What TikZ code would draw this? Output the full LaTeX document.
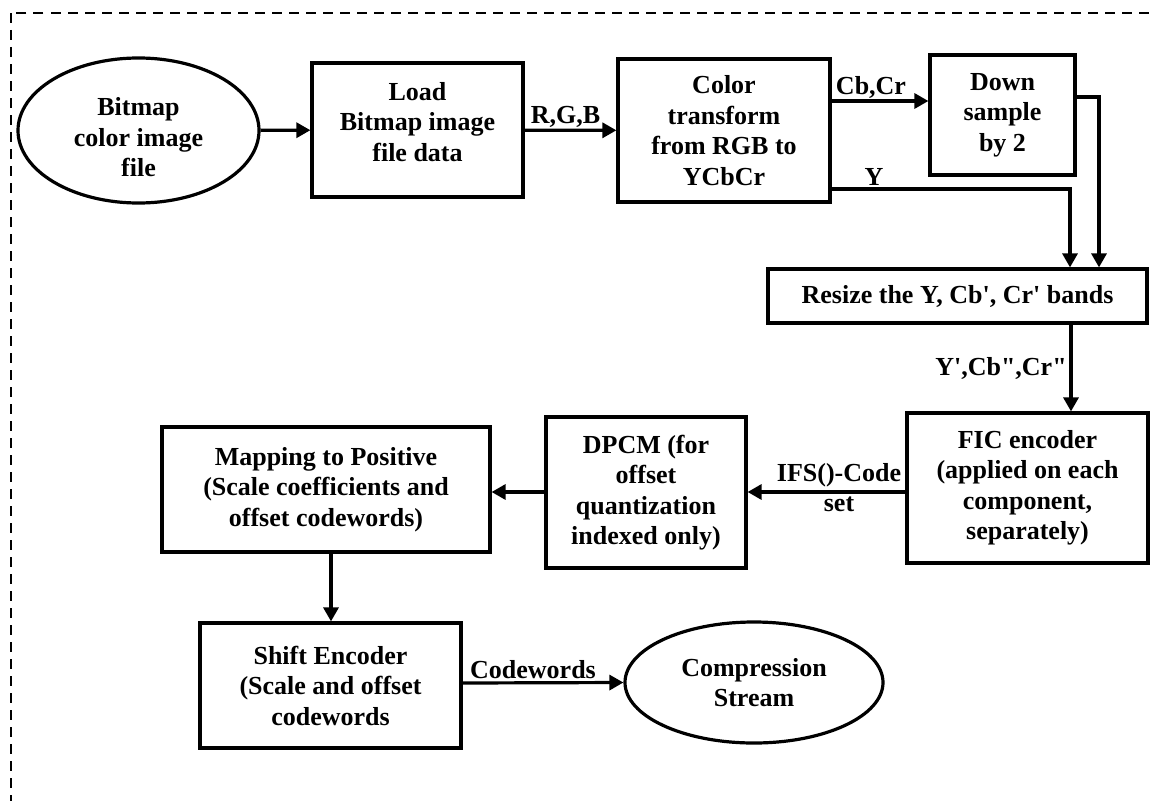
\documentclass[tikz,border=0pt]{standalone}
\usepackage{fontspec}
\setmainfont{Liberation Serif}
\usetikzlibrary{arrows.meta,shapes.geometric}
\begin{document}
\begin{tikzpicture}[x=1pt,y=-1pt,
  lw/.style={line width=3.2pt},
  txt/.style={font=\fontsize{26}{30.5}\selectfont\bfseries, align=center, inner sep=0pt},
  box/.style={draw, lw, rectangle, txt},
  oval/.style={draw, lw, ellipse, txt},
  arr/.style={lw, -{Triangle[length=14pt,width=15pt]}},
  lab/.style={font=\fontsize{26}{30.5}\selectfont\bfseries, inner sep=0pt, anchor=base},
  frame/.style={dash pattern=on 10pt off 7pt, line width=2pt}
]
\useasboundingbox (0,0) rectangle (1155,800);
\clip (0,0) rectangle (1155,800);
\fill[white] (0,0) rectangle (1155,800);
\draw[frame] (10.5,13) rectangle (1175,820);

% shapes
\node[oval, minimum width=241pt, minimum height=145pt] (bmp) at (138.5,130.5) {};
\node[txt] (bmpt) at (138.5,137.5) {Bitmap\\color image\\file};
\node[box, minimum width=211pt, minimum height=134pt] (load) at (417.5,130) {};
\node[txt] (loadt) at (417.5,121.7) {Load\\Bitmap image\\file data};
\node[box, minimum width=212pt, minimum height=143pt] (ct) at (724,130.5) {Color\\transform\\from RGB to\\YCbCr};
\node[box, minimum width=145pt, minimum height=120pt] (ds) at (1002.5,115) {Down\\sample\\by 2};
\node[box, minimum width=379pt, minimum height=54pt] (rs) at (957.5,296) {Resize the Y, Cb\textquotesingle, Cr\textquotesingle{} bands};
\node[box, minimum width=241pt, minimum height=150pt] (fic) at (1027.5,488) {FIC encoder\\(applied on each\\component,\\separately)};
\node[box, minimum width=200pt, minimum height=151pt] (dpcm) at (646,492.5) {DPCM (for\\offset\\quantization\\indexed only)};
\node[box, minimum width=328pt, minimum height=125pt] (map) at (326,489.5) {Mapping to Positive\\(Scale coefficients and\\offset codewords)};
\node[box, minimum width=261pt, minimum height=125pt] (shift) at (330.5,685.5) {Shift Encoder\\(Scale and offset\\codewords};
\node[oval, minimum width=258pt, minimum height=121pt] (cs) at (754,682.5) {Compression\\Stream};

% connectors
\draw[arr] (bmp) -- (load);
\draw[arr] (load) -- (ct);
\draw[arr] (ct.east |- 0,101) -- (ds.west |- 0,101);
\draw[arr] (ds.east |- 0,97) -| (rs.north -| 1099,0);
\draw[arr] (ct.east |- 0,189) -| (rs.north -| 1070,0);
\draw[arr] (rs.south -| 1071,0) -- (fic.north -| 1071,0);
\draw[arr] (fic.west |- 0,492) -- (dpcm.east |- 0,492);
\draw[arr] (dpcm.west |- 0,492) -- (map.east |- 0,492);
\draw[arr] (map.south -| 331,0) -- (shift.north -| 331,0);
\draw[arr] (shift.east |- 0,683) -- (cs.west);

% labels
\node[lab] (lrgb) at (565.5,123) {R,G,B};
\node[lab] (lcbcr) at (871,94) {Cb,Cr};
\node[lab] (ly) at (874,185) {Y};
\node[lab] (lyp) at (1001,375) {Y\textquotesingle,Cb\textquotedbl,Cr\textquotedbl};
\node[txt] (lifs) at (839,487.5) {IFS()-Code\\set};
\node[lab] (lcw) at (533,678) {Codewords};
\end{tikzpicture}
\end{document}
